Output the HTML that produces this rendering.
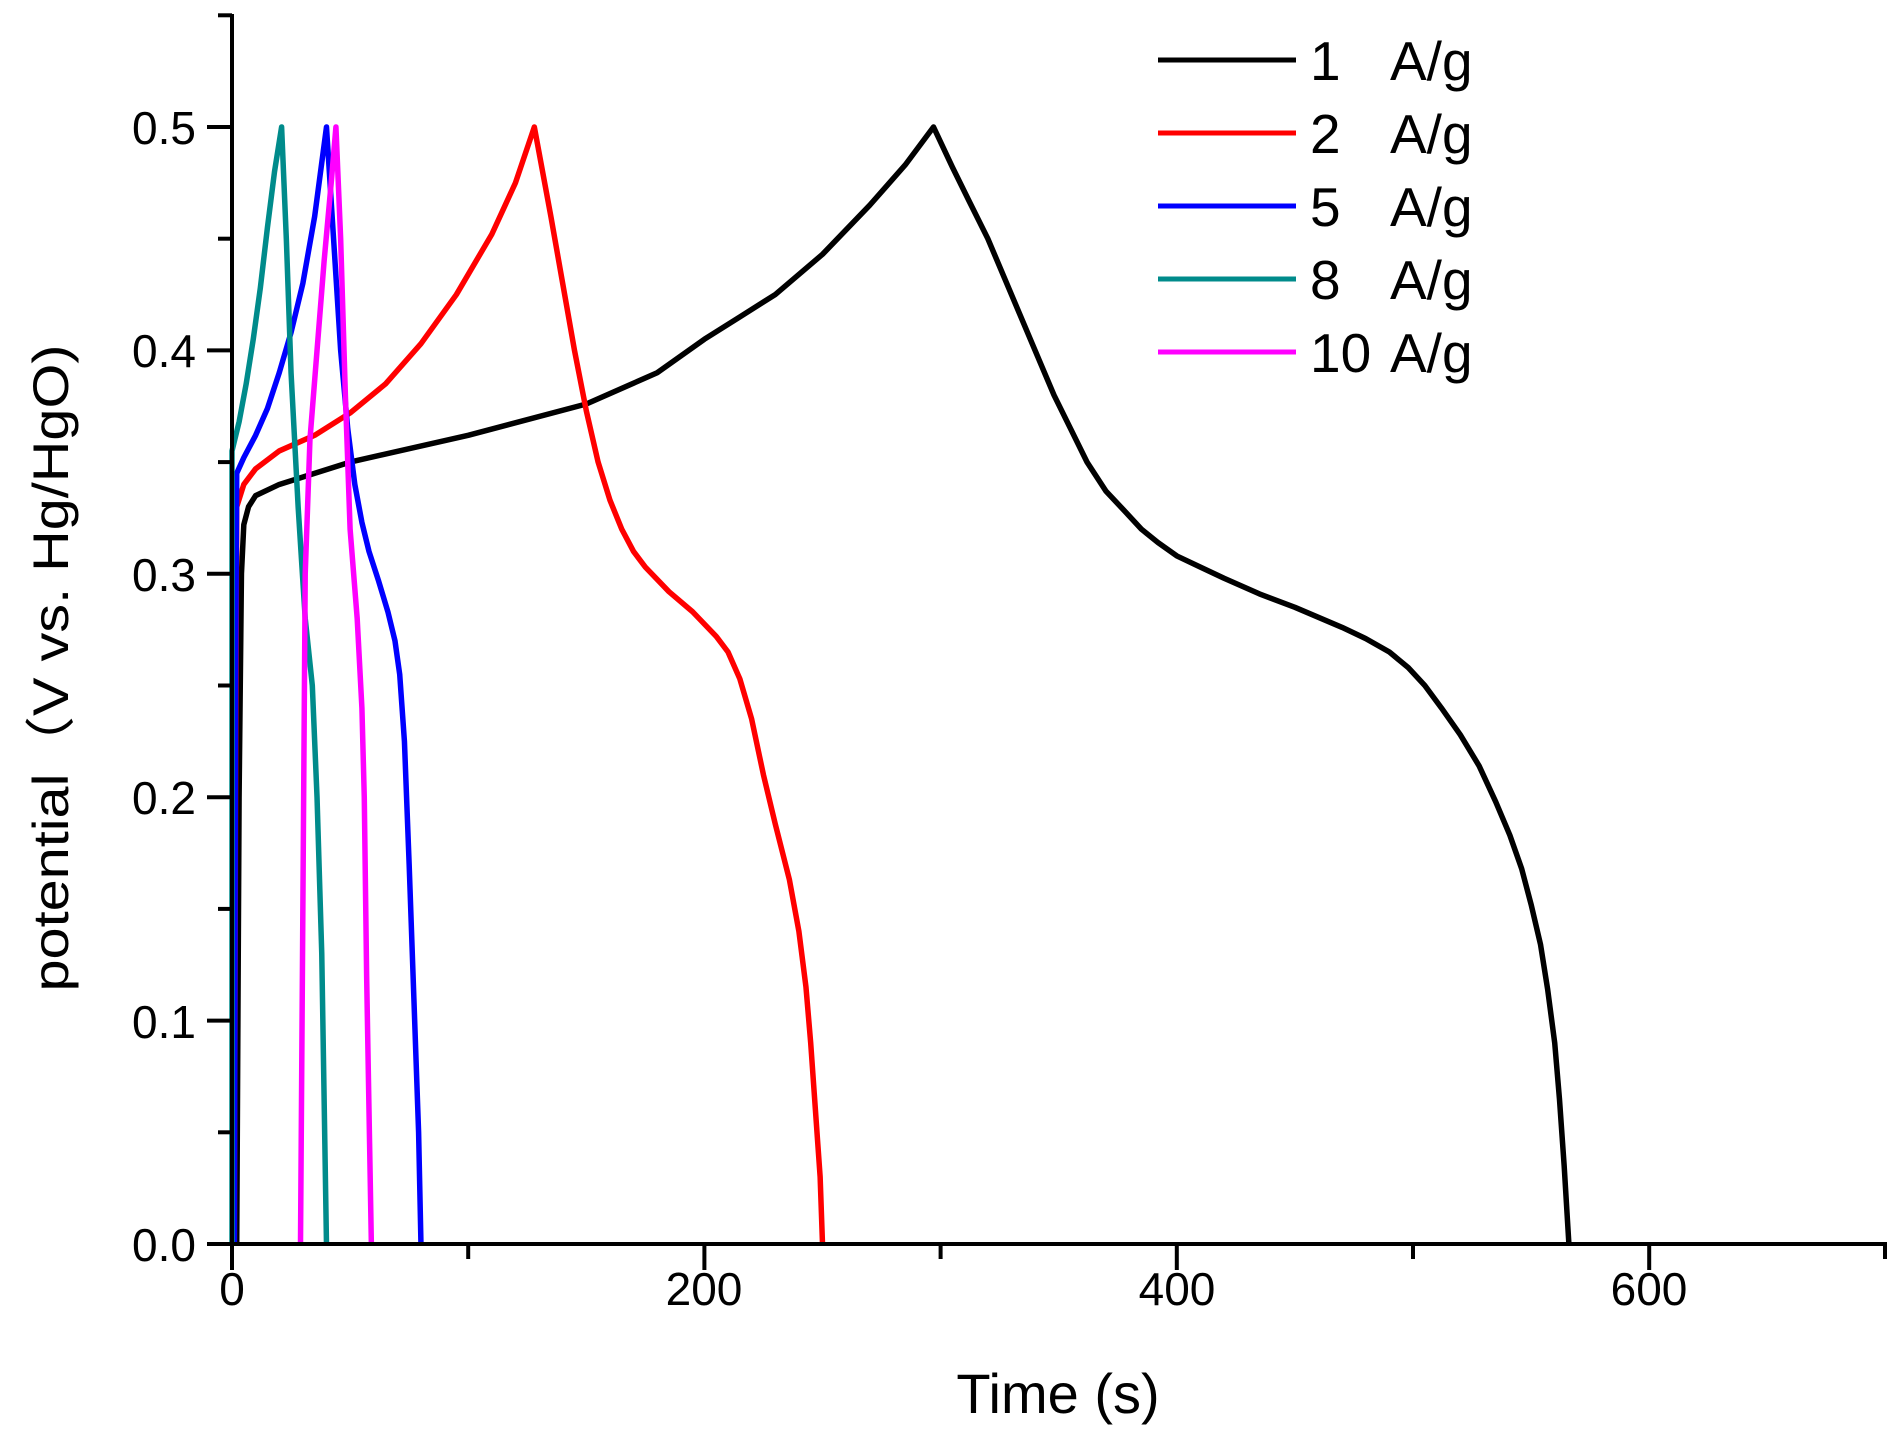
<!DOCTYPE html>
<html><head><meta charset="utf-8"><style>
html,body{margin:0;padding:0;background:#fff;}
svg{display:block;}
text{font-family:"Liberation Sans","Noto Sans CJK SC",sans-serif;fill:#000;}
</style></head><body>
<svg width="1897" height="1441" viewBox="0 0 1897 1441" xmlns="http://www.w3.org/2000/svg">
<g transform="matrix(2.362 0 0 -2234 232 1244)" fill="none" stroke-width="5.5" stroke-linejoin="round">
<polyline vector-effect="non-scaling-stroke" stroke="#000" points="2,0 3,0.2 4,0.3 5,0.322 7,0.33 10,0.335 20,0.34 50,0.35 100,0.362 150,0.376 180,0.39 200,0.405 215,0.415 230,0.425 250,0.443 270,0.465 285,0.483 297,0.5 305,0.482 312,0.467 320,0.45 330,0.425 340,0.40 348,0.38 355,0.365 362,0.35 370,0.337 378,0.328 385,0.32 392,0.314 400,0.308 410,0.303 420,0.298 435,0.291 450,0.285 470,0.276 480,0.271 490,0.265 498,0.258 505,0.25 512,0.24 520,0.228 528,0.214 535,0.198 541,0.183 546,0.168 550,0.152 554,0.134 557,0.114 560,0.09 562,0.065 564,0.035 566,0"/>
<polyline vector-effect="non-scaling-stroke" stroke="#f00" points="1,0 1.5,0.2 2,0.33 5,0.34 10,0.347 20,0.355 35,0.362 50,0.372 65,0.385 80,0.403 95,0.425 110,0.452 120,0.475 128,0.5 135,0.46 140,0.43 145,0.4 150,0.373 155,0.35 160,0.333 165,0.32 170,0.31 175,0.303 185,0.292 195,0.283 205,0.272 210,0.265 215,0.253 220,0.235 225,0.21 230,0.188 236,0.163 240,0.14 243,0.115 245,0.09 247,0.06 249,0.03 250,0"/>
<polyline vector-effect="non-scaling-stroke" stroke="#00f" points="1,0 1.5,0.25 2,0.345 5,0.352 10,0.362 15,0.374 20,0.39 25,0.408 30,0.43 35,0.46 40,0.5 43,0.45 46,0.4 49,0.365 52,0.34 55,0.323 58,0.31 62,0.297 66,0.283 69,0.27 71,0.255 73,0.225 75,0.17 77,0.11 79,0.05 80,0"/>
<polyline vector-effect="non-scaling-stroke" stroke="#008b8b" points="0,0 0,0.355 3,0.368 6,0.385 9,0.405 12,0.428 15,0.455 18,0.48 21,0.5 23,0.45 25,0.39 28,0.33 31,0.28 34,0.25 36,0.2 38,0.13 40,0"/>
<polyline vector-effect="non-scaling-stroke" stroke="#f0f" points="29,0 30,0.15 31,0.3 33,0.36 36,0.4 39,0.44 42,0.475 44,0.5 46,0.45 48,0.38 50,0.32 53,0.28 55,0.24 56,0.2 57,0.12 59,0"/>
</g>
<g stroke="#000" stroke-width="4" fill="none">
<line x1="232" y1="14" x2="232" y2="1246"/>
<line x1="230" y1="1244" x2="1887" y2="1244"/>
<line x1="207" y1="1244" x2="232" y2="1244"/>
<line x1="207" y1="1020.6" x2="232" y2="1020.6"/>
<line x1="207" y1="797.2" x2="232" y2="797.2"/>
<line x1="207" y1="573.8" x2="232" y2="573.8"/>
<line x1="207" y1="350.4" x2="232" y2="350.4"/>
<line x1="207" y1="127" x2="232" y2="127"/>
<line x1="218" y1="1132.3" x2="232" y2="1132.3"/>
<line x1="218" y1="908.9" x2="232" y2="908.9"/>
<line x1="218" y1="685.5" x2="232" y2="685.5"/>
<line x1="218" y1="462.1" x2="232" y2="462.1"/>
<line x1="218" y1="238.7" x2="232" y2="238.7"/>
<line x1="218" y1="15.3" x2="232" y2="15.3"/>
<line x1="232" y1="1244" x2="232" y2="1270"/>
<line x1="704.4" y1="1244" x2="704.4" y2="1270"/>
<line x1="1176.8" y1="1244" x2="1176.8" y2="1270"/>
<line x1="1649.2" y1="1244" x2="1649.2" y2="1270"/>
<line x1="468.2" y1="1244" x2="468.2" y2="1259"/>
<line x1="940.6" y1="1244" x2="940.6" y2="1259"/>
<line x1="1413" y1="1244" x2="1413" y2="1259"/>
<line x1="1885" y1="1244" x2="1885" y2="1259"/>
</g>
<g font-size="46" text-anchor="end">
<text x="196" y="1261">0.0</text>
<text x="196" y="1038">0.1</text>
<text x="196" y="814">0.2</text>
<text x="196" y="591">0.3</text>
<text x="196" y="367">0.4</text>
<text x="196" y="144">0.5</text>
</g>
<g font-size="46" text-anchor="middle">
<text x="232" y="1305">0</text>
<text x="704" y="1305">200</text>
<text x="1177" y="1305">400</text>
<text x="1649" y="1305">600</text>
</g>
<text x="1058" y="1413" font-size="56" text-anchor="middle">Time (s)</text>
<text transform="translate(68,668) rotate(-90)" font-size="50" text-anchor="middle" textLength="647" lengthAdjust="spacingAndGlyphs">potential（V vs. Hg/HgO)</text>
<g stroke-width="5">
<line x1="1158" y1="60" x2="1296" y2="60" stroke="#000"/>
<line x1="1158" y1="133" x2="1296" y2="133" stroke="#f00"/>
<line x1="1158" y1="206" x2="1296" y2="206" stroke="#00f"/>
<line x1="1158" y1="279" x2="1296" y2="279" stroke="#008b8b"/>
<line x1="1158" y1="352" x2="1296" y2="352" stroke="#f0f"/>
</g>
<g font-size="55">
<text x="1310" y="80">1</text><text x="1390" y="80">A/g</text>
<text x="1310" y="153">2</text><text x="1390" y="153">A/g</text>
<text x="1310" y="226">5</text><text x="1390" y="226">A/g</text>
<text x="1310" y="299">8</text><text x="1390" y="299">A/g</text>
<text x="1310" y="372">10</text><text x="1390" y="372">A/g</text>
</g>
</svg>
</body></html>
